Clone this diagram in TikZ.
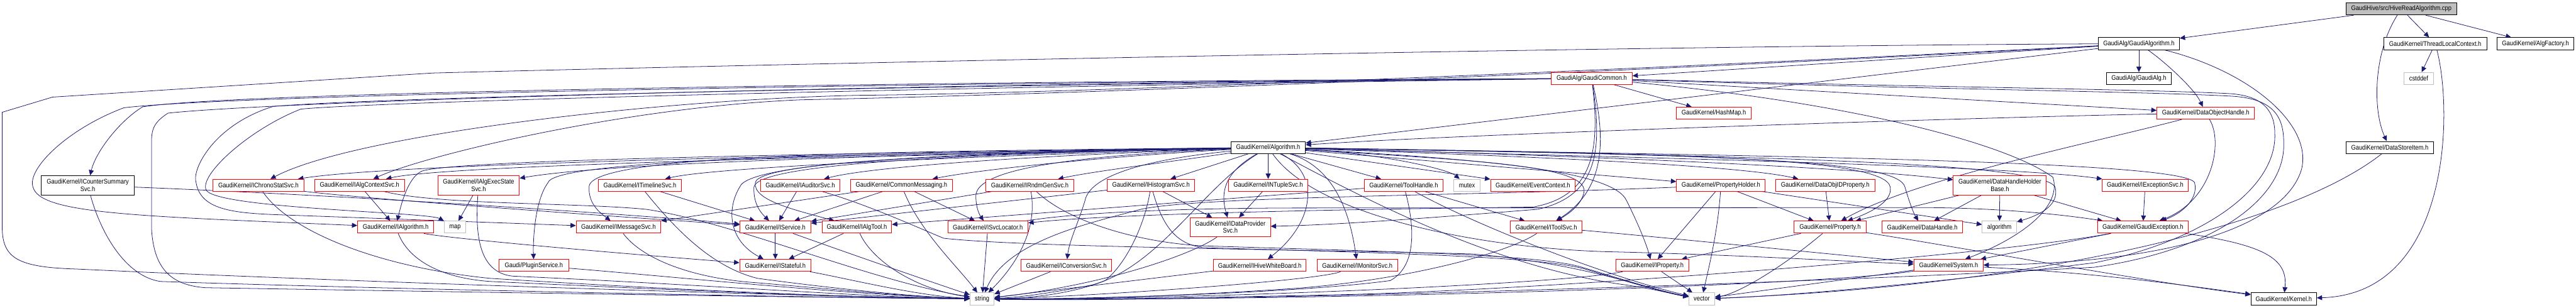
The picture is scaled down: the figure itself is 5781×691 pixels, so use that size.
\documentclass[tikz,border=0pt]{standalone}
\usepackage{fontspec}
\setmainfont{Liberation Sans}[FakeStretch=0.88]
\usetikzlibrary{arrows.meta}
\definecolor{edgec}{HTML}{191970}
\definecolor{grayb}{HTML}{BFBFBF}
\pgfdeclarelayer{bg}
\pgfsetlayers{bg,main}
\begin{document}
\begin{tikzpicture}[x=1pt,y=-1pt,
  nd/.style={draw, line width=1.3pt, fill=white, inner sep=0pt, minimum height=27pt, align=center, font=\fontsize{15}{16}\selectfont},
  rn/.style={nd, draw=red},
  bn/.style={nd, draw=black},
  gn/.style={nd, draw=grayb},
  two/.style={minimum height=43pt},
  arr/.style={draw=edgec, line width=1.1pt, -{Triangle[length=12pt,width=11pt]}},
]
\useasboundingbox (0,0) rectangle (5781,691);
% row 0
\node[nd, fill=grayb, draw=black, minimum width=249pt] (root) at (5389,20) {GaudiHive/src/HiveReadAlgorithm.cpp};
% row 1
\node[bn, minimum width=182pt] (GA) at (4800,98) {GaudiAlg/GaudiAlgorithm.h};
\node[bn, minimum width=231pt] (TLC) at (5465,98) {GaudiKernel/ThreadLocalContext.h};
\node[bn, minimum width=173pt] (AF) at (5690,98) {GaudiKernel/AlgFactory.h};
% row 2
\node[rn, minimum width=182pt] (GC) at (3572,176) {GaudiAlg/GaudiCommon.h};
\node[bn, minimum width=146pt] (GAlg) at (4800,176) {GaudiAlg/GaudiAlg.h};
\node[gn, minimum width=65pt] (cstddef) at (5428,176) {cstddef};
% row 3
\node[rn, minimum width=167pt] (HashMap) at (3846,254) {GaudiKernel/HashMap.h};
\node[rn, minimum width=219pt] (DOH) at (4950,254) {GaudiKernel/DataObjectHandle.h};
% row 4
\node[bn, minimum width=167pt] (Alg) at (2846,331) {GaudiKernel/Algorithm.h};
\node[bn, minimum width=196pt] (DSI) at (5363,331) {GaudiKernel/DataStoreItem.h};
% row 5
\node[bn, two, minimum width=208pt] (CSS) at (197,416) {GaudiKernel/ICounterSummary\\Svc.h};
\node[rn, minimum width=205pt] (Chrono) at (580,416) {GaudiKernel/IChronoStatSvc.h};
\node[rn, minimum width=202pt] (ACtx) at (807,416) {GaudiKernel/IAlgContextSvc.h};
\node[rn, two, minimum width=183pt] (AES) at (1074,416) {GaudiKernel/IAlgExecState\\Svc.h};
\node[rn, minimum width=186pt] (TL) at (1436,416) {GaudiKernel/ITimelineSvc.h};
\node[rn, minimum width=179pt] (Aud) at (1796,416) {GaudiKernel/IAuditorSvc.h};
\node[rn, minimum width=228pt] (CM) at (2023,416) {GaudiKernel/CommonMessaging.h};
\node[rn, minimum width=197pt] (Rndm) at (2311,416) {GaudiKernel/IRndmGenSvc.h};
\node[rn, minimum width=197pt] (Hist) at (2583,416) {GaudiKernel/IHistogramSvc.h};
\node[rn, minimum width=177pt] (NTup) at (2846,416) {GaudiKernel/INTupleSvc.h};
\node[rn, minimum width=177pt] (TH) at (3150,416) {GaudiKernel/ToolHandle.h};
\node[gn, minimum width=58pt] (mutex) at (3292,416) {mutex};
\node[rn, minimum width=190pt] (EC) at (3440,416) {GaudiKernel/EventContext.h};
\node[rn, minimum width=199pt] (PH) at (3862,416) {GaudiKernel/PropertyHolder.h};
\node[rn, minimum width=223pt] (DOIP) at (4096,416) {GaudiKernel/DataObjIDProperty.h};
\node[rn, two, minimum width=209pt] (DHHB) at (4488,416) {GaudiKernel/DataHandleHolder\\Base.h};
\node[rn, minimum width=194pt] (ExcSvc) at (4814,416) {GaudiKernel/IExceptionSvc.h};
% row 6
\node[rn, minimum width=171pt] (IAlg) at (888,510) {GaudiKernel/IAlgorithm.h};
\node[gn, minimum width=48pt] (map) at (1021,510) {map};
\node[rn, minimum width=190pt] (MsgSvc) at (1388,510) {GaudiKernel/IMessageSvc.h};
\node[rn, minimum width=159pt] (Svc) at (1740,510) {GaudiKernel/IService.h};
\node[rn, minimum width=156pt] (AlgTool) at (1923,510) {GaudiKernel/IAlgTool.h};
\node[rn, minimum width=180pt] (SvcLoc) at (2217,510) {GaudiKernel/ISvcLocator.h};
\node[rn, minimum width=180pt, minimum height=42pt] (DPS) at (2761,510) {GaudiKernel/IDataProvider\\Svc.h};
\node[rn, minimum width=161pt] (ToolSvc) at (3470,510) {GaudiKernel/IToolSvc.h};
\node[rn, minimum width=161pt] (Prop) at (4107,510) {GaudiKernel/Property.h};
\node[rn, minimum width=180pt] (DH) at (4314,510) {GaudiKernel/DataHandle.h};
\node[gn, minimum width=77pt] (algorithm) at (4487,510) {algorithm};
\node[rn, minimum width=204pt] (GExc) at (4809,510) {GaudiKernel/GaudiException.h};
% row 7
\node[rn, minimum width=156pt] (PS) at (1198,596) {Gaudi/PluginService.h};
\node[rn, minimum width=160pt] (Stateful) at (1740,596) {GaudiKernel/IStateful.h};
\node[rn, minimum width=203pt] (Conv) at (2393,596) {GaudiKernel/IConversionSvc.h};
\node[rn, minimum width=208pt] (HWB) at (2827,596) {GaudiKernel/IHiveWhiteBoard.h};
\node[rn, minimum width=181pt] (Mon) at (3046,596) {GaudiKernel/IMonitorSvc.h};
\node[rn, minimum width=163pt] (IProp) at (3708,596) {GaudiKernel/IProperty.h};
\node[rn, minimum width=155pt] (Sys) at (4373,596) {GaudiKernel/System.h};
% row 8
\node[gn, minimum width=54pt] (string) at (2204,671) {string};
\node[gn, minimum width=58pt] (vector) at (3819,671) {vector};
\node[bn, minimum width=147pt] (Kernel) at (5125,671) {GaudiKernel/Kernel.h};

\begin{pgfonlayer}{bg}
% root
\draw[arr] (root) -- (GA);
\draw[arr] (root) .. controls (5325,120) and (5325,250) .. (DSI);
\draw[arr] (root) -- (TLC);
\draw[arr] (root) -- (AF);
% ThreadLocalContext
\draw[arr] (TLC) -- (cstddef);
\draw[arr] (TLC) .. controls (5505,250) and (5500,660) .. (Kernel);
% DataStoreItem
\draw[arr] (DSI) .. controls (5150,500) and (4600,640) .. (vector);
% GaudiAlgorithm
\draw[arr] (GA) -- (GAlg);
\draw[arr] (GA) .. controls (4860,140) and (4925,200) .. (DOH);
\draw[arr] (GA) -- (GC);
\draw[arr] (GA) -- (Alg);
\draw[arr] (GA) .. controls (3500,104) and (1500,150) .. (970,164) -- (118,218) -- (5,252) -- (5,510) .. controls (5,580) and (40,600) .. (170,604) -- (322,611) .. controls (1000,640) and (1800,665) .. (string);
\draw[arr] (GA) .. controls (3600,160) and (2400,210) .. (1930,214) .. controls (1500,222) and (800,300) .. (Chrono);
\draw[arr] (GA) .. controls (3600,165) and (2400,212) .. (1800,224) .. controls (1400,240) and (950,350) .. (ACtx);
\draw[arr] (GA) .. controls (5050,160) and (5190,280) .. (5165,380) .. controls (5130,500) and (4900,590) .. (Sys);
% GaudiCommon
\draw[arr] (GC) -- (HashMap);
\draw[arr] (GC) .. controls (3600,300) and (3610,420) .. (ToolSvc);
\draw[arr] (GC) .. controls (3595,330) and (3590,440) .. (3450,470) .. controls (3200,490) and (3000,505) .. (DPS);
\draw[arr] (GC) .. controls (3590,330) and (3580,440) .. (3440,465) .. controls (3000,470) and (2500,480) .. (SvcLoc);
\draw[arr] (GC) .. controls (1800,185) and (500,210) .. (320,240) .. controls (270,270) and (215,340) .. (CSS);
\draw[arr] (GC) .. controls (1800,188) and (500,215) .. (278,242) .. controls (150,290) and (60,380) .. (74,420) .. controls (90,480) and (300,485) .. (IAlg);
\draw[arr] (GC) .. controls (1800,190) and (600,230) .. (377,254) .. controls (345,275) and (340,290) .. (340,320) -- (340,513) .. controls (345,600) and (380,640) .. (461,646) .. controls (1000,655) and (1800,668) .. (string);
\draw[arr] (GC) .. controls (1800,195) and (800,222) .. (613,239) .. controls (480,280) and (430,380) .. (440,410) .. controls (450,470) and (520,478) .. (619,482) -- (MsgSvc);
\draw[arr] (GC) .. controls (1800,200) and (800,232) .. (675,245) .. controls (560,290) and (450,390) .. (462,425) .. controls (472,468) and (960,476) .. (map);
\draw[arr] (GC) -- (DOH);
\draw[arr] (GC) .. controls (4150,230) and (4500,320) .. (4607,398) .. controls (4630,470) and (4520,540) .. (Sys);
\draw[arr] (GC) .. controls (4300,195) and (4800,200) .. (5000,210) .. controls (5080,214) and (5105,250) .. (5105,300) .. controls (5110,420) and (4950,540) .. (4700,590) .. controls (4300,640) and (4000,665) .. (vector);
\draw[arr] (GC) .. controls (4300,200) and (4800,205) .. (5010,216) .. controls (5100,222) and (5125,260) .. (5125,320) .. controls (5130,440) and (4980,560) .. (4700,600) .. controls (4000,640) and (2600,680) .. (string);
% DataObjectHandle
\draw[arr] (DOH) .. controls (4500,262) and (3300,300) .. (Alg);
\draw[arr] (DOH) .. controls (4990,320) and (4965,450) .. (GExc);
\draw[arr] (DOH) .. controls (4700,320) and (4300,400) .. (Prop);
% Algorithm
\draw[arr] (Alg) .. controls (2000,345) and (900,365) .. (Chrono);
\draw[arr] (Alg) .. controls (2000,348) and (1000,370) .. (ACtx);
\draw[arr] (Alg) .. controls (2200,345) and (1400,360) .. (AES);
\draw[arr] (Alg) .. controls (2200,350) and (1600,375) .. (TL);
\draw[arr] (Alg) .. controls (2300,350) and (1950,375) .. (Aud);
\draw[arr] (Alg) .. controls (2500,350) and (2200,380) .. (CM);
\draw[arr] (Alg) .. controls (2650,360) and (2450,385) .. (Rndm);
\draw[arr] (Alg) -- (Hist);
\draw[arr] (Alg) -- (NTup);
\draw[arr] (Alg) -- (TH);
\draw[arr] (Alg) .. controls (3100,345) and (3250,380) .. (mutex);
\draw[arr] (Alg) -- (EC);
\draw[arr] (Alg) -- (PH);
\draw[arr] (Alg) .. controls (3400,350) and (3900,370) .. (DOIP);
\draw[arr] (Alg) .. controls (3400,345) and (4100,370) .. (DHHB);
\draw[arr] (Alg) .. controls (3500,350) and (4500,370) .. (ExcSvc);
\draw[arr] (Alg) .. controls (1800,345) and (1000,360) .. (945,385) .. controls (915,400) and (900,460) .. (IAlg);
\draw[arr] (Alg) .. controls (2000,340) and (1320,345) .. (1322,420) .. controls (1320,460) and (1350,480) .. (MsgSvc);
\draw[arr] (Alg) .. controls (2000,345) and (1245,355) .. (1230,410) .. controls (1200,450) and (1196,540) .. (PS);
\draw[arr] (Alg) .. controls (2200,345) and (1700,365) .. (1692,420) .. controls (1690,460) and (1710,480) .. (Svc);
\draw[arr] (Alg) .. controls (2200,345) and (1705,360) .. (1695,410) .. controls (1690,450) and (1780,470) .. (AlgTool);
\draw[arr] (Alg) .. controls (2200,342) and (1680,360) .. (1660,420) .. controls (1630,470) and (1635,540) .. (Stateful);
\draw[arr] (Alg) .. controls (2400,350) and (2190,380) .. (2190,440) .. controls (2190,470) and (2200,485) .. (SvcLoc);
\draw[arr] (Alg) .. controls (2760,380) and (2735,420) .. (DPS);
\draw[arr] (Alg) .. controls (2550,360) and (2445,400) .. (2435,450) .. controls (2420,500) and (2400,540) .. (Conv);
\draw[arr] (Alg) .. controls (2965,390) and (2950,500) .. (HWB);
\draw[arr] (Alg) .. controls (2995,375) and (3030,480) .. (Mon);
\draw[arr] (Alg) .. controls (3300,360) and (3560,370) .. (3555,430) .. controls (3550,460) and (3520,480) .. (ToolSvc);
\draw[arr] (Alg) .. controls (3350,358) and (3620,385) .. (3650,450) .. controls (3680,510) and (3695,550) .. (IProp);
\draw[arr] (Alg) .. controls (3800,345) and (4230,355) .. (4242,420) .. controls (4248,455) and (4190,480) .. (Prop);
\draw[arr] (Alg) .. controls (3900,348) and (4260,360) .. (4275,420) .. controls (4285,455) and (4295,480) .. (DH);
\draw[arr] (Alg) .. controls (3950,350) and (4585,365) .. (4612,420) .. controls (4622,460) and (4580,482) .. (algorithm);
\draw[arr] (Alg) .. controls (4000,350) and (4900,362) .. (4925,410) .. controls (4935,450) and (4890,482) .. (GExc);
\draw[arr] (Alg) .. controls (2950,480) and (3300,555) .. (3600,565) .. controls (3900,572) and (4100,585) .. (Sys);
\draw[arr] (Alg) .. controls (2700,420) and (2600,600) .. (2450,640) .. controls (2350,660) and (2280,668) .. (string);
\draw[arr] (Alg) .. controls (3050,440) and (3350,600) .. (3650,640) .. controls (3720,650) and (3760,662) .. (vector);
% row 5 sources
\draw[arr] (CSS) .. controls (800,440) and (1400,480) .. (Svc);
\draw[arr] (CSS) .. controls (225,520) and (280,620) .. (360,632) .. controls (900,650) and (1800,668) .. (string);
\draw[arr] (Chrono) .. controls (800,445) and (1400,488) .. (Svc);
\draw[arr] (Chrono) .. controls (650,520) and (850,600) .. (1100,625) .. controls (1500,650) and (1900,668) .. (string);
\draw[arr] (ACtx) -- (IAlg);
\draw[arr] (ACtx) .. controls (980,460) and (1300,455) .. (1450,470) .. controls (1650,500) and (1950,630) .. (string);
\draw[arr] (AES) -- (map);
\draw[arr] (AES) .. controls (1065,540) and (1080,612) .. (1150,620) .. controls (1600,640) and (1950,668) .. (string);
\draw[arr] (TL) -- (Svc);
\draw[arr] (TL) .. controls (1520,520) and (1600,600) .. (1700,625) .. controls (1900,652) and (2080,668) .. (string);
\draw[arr] (Aud) -- (Svc);
\draw[arr] (Aud) .. controls (1950,460) and (2080,520) .. (2118,535) .. controls (2300,555) and (2900,560) .. (3300,570) .. controls (3550,590) and (3700,650) .. (vector);
\draw[arr] (CM) -- (MsgSvc);
\draw[arr] (CM) -- (SvcLoc);
\draw[arr] (CM) -- (Svc);
\draw[arr] (CM) .. controls (2065,520) and (2150,600) .. (string);
\draw[arr] (Rndm) -- (Svc);
\draw[arr] (Rndm) .. controls (2330,520) and (2275,600) .. (string);
\draw[arr] (Rndm) .. controls (2400,500) and (2560,545) .. (2700,552) .. controls (3100,565) and (3450,570) .. (3550,600) .. controls (3650,630) and (3730,655) .. (vector);
\draw[arr] (Hist) -- (Svc);
\draw[arr] (Hist) -- (DPS);
\draw[arr] (Hist) .. controls (2570,500) and (2530,590) .. (2480,630) .. controls (2400,662) and (2300,670) .. (string);
\draw[arr] (Hist) .. controls (2610,510) and (2640,548) .. (2700,556) .. controls (3100,568) and (3460,575) .. (3560,605) .. controls (3660,635) and (3735,657) .. (vector);
\draw[arr] (NTup) -- (DPS);
\draw[arr] (TH) -- (AlgTool);
\draw[arr] (TH) -- (ToolSvc);
\draw[arr] (TH) .. controls (3178,520) and (3175,600) .. (3120,630) .. controls (2900,660) and (2400,672) .. (string);
\draw[arr] (TH) .. controls (3300,500) and (3600,620) .. (vector);
\draw[arr] (PH) -- (Prop);
\draw[arr] (PH) -- (IProp);
\draw[arr] (PH) -- (algorithm);
\draw[arr] (PH) .. controls (3855,520) and (3835,600) .. (vector);
\draw[arr] (PH) .. controls (3300,440) and (2700,440) .. (2560,470) .. controls (2450,500) and (2260,540) .. (string);
\draw[arr] (DOIP) -- (Prop);
\draw[arr] (DHHB) -- (Prop);
\draw[arr] (DHHB) -- (DH);
\draw[arr] (DHHB) -- (algorithm);
\draw[arr] (DHHB) -- (GExc);
\draw[arr] (ExcSvc) -- (GExc);
% row 6 sources
\draw[arr] (SvcLoc) .. controls (2400,480) and (2600,468) .. (2900,467) -- (4300,466) .. controls (4500,466) and (4650,485) .. (GExc);
\draw[arr] (IAlg) .. controls (1000,535) and (1400,570) .. (Stateful);
\draw[arr] (IAlg) .. controls (920,590) and (1000,625) .. (1100,632) .. controls (1600,655) and (1900,668) .. (string);
\draw[arr] (MsgSvc) .. controls (1440,580) and (1550,625) .. (1700,635) .. controls (1900,652) and (2060,668) .. (string);
\draw[arr] (Svc) -- (Stateful);
\draw[arr] (Svc) .. controls (1880,560) and (2080,630) .. (string);
\draw[arr] (AlgTool) -- (Stateful);
\draw[arr] (AlgTool) .. controls (1960,590) and (2060,650) .. (string);
\draw[arr] (SvcLoc) -- (string);
\draw[arr] (DPS) .. controls (2680,570) and (2480,640) .. (string);
\draw[arr] (ToolSvc) .. controls (3380,570) and (3150,630) .. (2900,648) .. controls (2600,668) and (2350,673) .. (string);
\draw[arr] (ToolSvc) .. controls (3700,530) and (4000,560) .. (Sys);
\draw[arr] (Prop) -- (IProp);
\draw[arr] (Prop) .. controls (4000,600) and (3900,660) .. (vector);
\draw[arr] (Prop) .. controls (4400,555) and (4800,630) .. (Kernel);
\draw[arr] (GExc) .. controls (5080,550) and (5135,580) .. (Kernel);
\draw[arr] (GExc) -- (Sys);
\draw[arr] (GExc) .. controls (4500,570) and (3500,650) .. (3000,662) .. controls (2600,670) and (2350,674) .. (string);
% row 7 sources
\draw[arr] (PS) .. controls (1500,620) and (1900,662) .. (string);
\draw[arr] (Stateful) .. controls (1900,625) and (2060,665) .. (string);
\draw[arr] (Conv) -- (string);
\draw[arr] (HWB) -- (string);
\draw[arr] (Mon) .. controls (2950,632) and (2400,668) .. (string);
\draw[arr] (IProp) .. controls (3500,640) and (2600,674) .. (string);
\draw[arr] (IProp) -- (vector);
\draw[arr] (Sys) .. controls (4100,640) and (3000,676) .. (string);
\draw[arr] (Sys) -- (vector);
\draw[arr] (Sys) .. controls (4700,612) and (4900,640) .. (Kernel);
\end{pgfonlayer}
\end{tikzpicture}
\end{document}
